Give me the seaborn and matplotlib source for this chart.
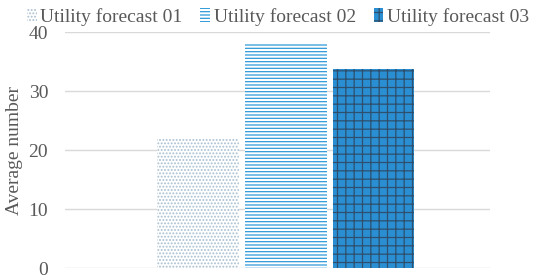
import pandas as pd
import seaborn as sns
from matplotlib import pyplot as plt
from matplotlib.patches import Patch

# Daten
series = ['Utility forecast 01', 'Utility forecast 02', 'Utility forecast 03']
values = [22.0, 38.1, 33.7]
group = ['']

df = pd.DataFrame({'group': group * len(series), 'series': series, 'value': values})

sns.set_style("white")
plt.rcParams['font.family'] = ['Liberation Serif', 'DejaVu Serif']
plt.rcParams['hatch.linewidth'] = 0.9

fig = plt.figure(figsize=(5.4, 2.79), dpi=100)
ax = fig.add_axes([0.12, 0.039, 0.787, 0.846])

sns.barplot(data=df, x='group', y='value', hue='series', ax=ax,
            width=0.62, gap=0.07, legend=False)

styles = [
    dict(face='white', edge='#a9bfd0', hatch='.....'),
    dict(face='white', edge='#2f9ad8', hatch='-----'),
    dict(face='#2a8fd2', edge='#2f4f6e', hatch='++'),
]
for patch, st in zip(ax.patches, styles):
    patch.set_facecolor(st['face'])
    patch.set_edgecolor(st['edge'])
    patch.set_hatch(st['hatch'])
    patch.set_linewidth(0)

ax.set_xlim(-0.52, 0.48)
ax.set_ylim(0, 40)
ax.set_yticks([0, 10, 20, 30, 40])
ax.yaxis.grid(True, color='#d9d9d9', linewidth=1)
ax.set_axisbelow(True)
for s in ax.spines.values():
    s.set_visible(False)
ax.set_xticks([])
ax.set_xlabel('')
ax.set_ylabel('Average number', fontsize=14, color='#595959', labelpad=4)
ax.tick_params(axis='y', length=0, labelsize=14, labelcolor='#595959', pad=12)

# Legende oben
handles = [Patch(facecolor=st['face'], edgecolor=st['edge'], hatch=st['hatch'], linewidth=0)
           for st in styles]
fig.legend(handles, series, loc='upper center', bbox_to_anchor=(0.515, 1.035), ncol=3,
           frameon=False, fontsize=14, labelcolor='#595959', handlelength=0.5,
           handleheight=0.7, handletextpad=0.2, columnspacing=0.9)

fig.savefig('out.png', dpi=100)
